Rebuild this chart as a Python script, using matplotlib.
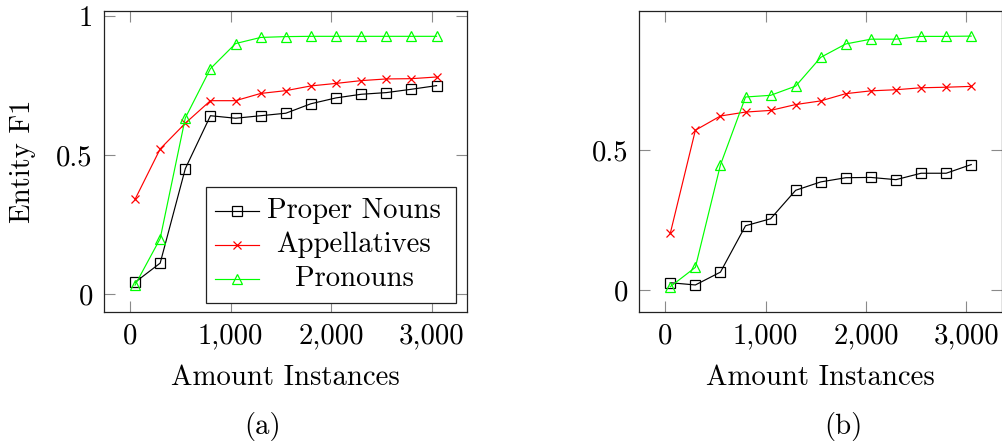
import matplotlib
matplotlib.use("Agg")
import matplotlib.pyplot as plt
from matplotlib.lines import Line2D
from matplotlib.patches import Rectangle

plt.rcParams['font.family'] = ['cmr10', 'DejaVu Serif']
plt.rcParams['mathtext.fontset'] = 'cm'
plt.rcParams['axes.formatter.use_mathtext'] = True

# ---- data ----
instances = [50, 300, 550, 800, 1050, 1300, 1550, 1800, 2050, 2300, 2550, 2800, 3050]

a_proper = [0.043, 0.112, 0.451, 0.641, 0.632, 0.641, 0.650, 0.684, 0.705, 0.718, 0.724, 0.736, 0.749]
a_appell = [0.341, 0.522, 0.614, 0.695, 0.695, 0.721, 0.731, 0.748, 0.757, 0.767, 0.773, 0.774, 0.780]
a_pronoun = [0.033, 0.200, 0.633, 0.810, 0.900, 0.922, 0.925, 0.926, 0.926, 0.926, 0.926, 0.926, 0.926]

b_proper = [0.026, 0.018, 0.064, 0.230, 0.255, 0.357, 0.387, 0.402, 0.403, 0.395, 0.418, 0.418, 0.449]
b_appell = [0.203, 0.572, 0.623, 0.637, 0.643, 0.664, 0.677, 0.703, 0.713, 0.717, 0.724, 0.726, 0.729]
b_pronoun = [0.012, 0.081, 0.448, 0.691, 0.697, 0.730, 0.833, 0.881, 0.898, 0.898, 0.908, 0.908, 0.909]

series_names = ["Proper Nouns", "Appellatives", "Pronouns"]
series_colors = ["black", "#ff0000", "#00ff00"]
series_markers = ["s", "x", "^"]
series_ms = [7.4, 5.8, 7.0]

xticks = [0, 1000, 2000, 3000]
xticklabels = ["0", "1,000", "2,000", "3,000"]
a_yticks = [0, 0.5, 1]
a_yticklabels = ["0", "0.5", "1"]
b_yticks = [0, 0.5]
b_yticklabels = ["0", "0.5"]

FS = 20.7
W, H = 1002, 443
fig = plt.figure(figsize=(W / 100, H / 100), dpi=100)

def px_axes(x0, x1, y0, y1):
    return fig.add_axes([x0 / W, 1 - y1 / H, (x1 - x0) / W, (y1 - y0) / H])

axA = px_axes(104, 467, 11, 312)
axB = px_axes(639.3, 1001.6, 11, 312)

def draw(ax, ys, ylim, yticks, yticklabels):
    for y, c, m, ms in zip(ys, series_colors, series_markers, series_ms):
        ax.plot(instances, y, color=c, lw=0.85, marker=m, ms=ms,
                mfc='none', mec=c, mew=0.9, zorder=3)
    ax.set_xlim(-259, 3353)
    ax.set_ylim(*ylim)
    ax.set_xticks(xticks)
    ax.set_xticklabels(xticklabels)
    ax.set_yticks(yticks)
    ax.set_yticklabels(yticklabels)
    ax.tick_params(direction='in', length=7.7, width=0.8, color='#8a8a8a',
                   top=True, right=True, labelsize=FS, pad=8.0)
    for s in ax.spines.values():
        s.set_linewidth(0.9)
        s.set_color('#222222')
    ax.set_xlabel("Amount Instances", fontsize=FS)
    ax.xaxis.set_label_coords(0.5, (312 - 378) / 301)
    ax.xaxis.label.set_va('center')

draw(axA, [a_proper, a_appell, a_pronoun], (-0.0635, 1.0169), a_yticks, a_yticklabels)
draw(axB, [b_proper, b_appell, b_pronoun], (-0.0788, 0.9989), b_yticks, b_yticklabels)

axA.set_ylabel("Entity F1", fontsize=FS)
axA.yaxis.set_label_coords((22.5 - 104) / 363, 0.5)
axA.yaxis.label.set_va('center')

# ---- manual legend (centered text like pgfplots) ----
lx0, lx1, ly0, ly1 = 0.281, 0.969, 0.029, 0.414
axA.add_patch(Rectangle((lx0, ly0), lx1 - lx0, ly1 - ly0, transform=axA.transAxes,
                        facecolor='white', edgecolor='#222222', lw=0.9, zorder=5))
rows = [0.3365, 0.2226, 0.1086]
for name, c, m, ms, ry in zip(series_names, series_colors, series_markers, series_ms, rows):
    axA.add_line(Line2D([0.3058, 0.4278], [ry, ry], transform=axA.transAxes,
                        color=c, lw=0.85, zorder=6))
    axA.add_line(Line2D([0.3664], [ry], transform=axA.transAxes, color=c,
                        marker=m, ms=ms, mfc='none', mec=c, mew=0.9, lw=0, zorder=7))
    axA.text(0.6887, ry, name, transform=axA.transAxes, ha='center', va='center',
             fontsize=FS, zorder=8)

fig.text(262.7 / W, 1 - 426.5 / H, "(a)", ha='center', va='center', fontsize=FS)
fig.text(843 / W, 1 - 426.5 / H, "(b)", ha='center', va='center', fontsize=FS)

fig.savefig("out.png", dpi=100)
